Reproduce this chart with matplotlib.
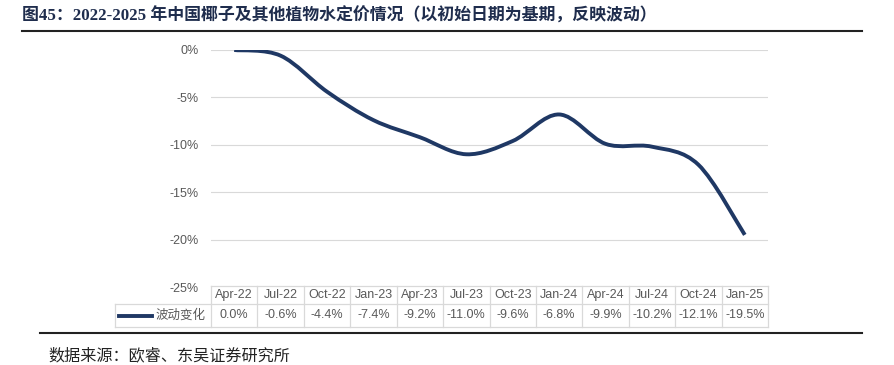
import matplotlib.pyplot as plt
from matplotlib.path import Path
from matplotlib.patches import PathPatch
from matplotlib.lines import Line2D
from matplotlib.ticker import FuncFormatter
import matplotlib.transforms as mtransforms

plt.rcParams['font.family'] = ['Liberation Sans', 'Noto Sans CJK SC', 'DejaVu Sans']

# data
months = ['Apr-22', 'Jul-22', 'Oct-22', 'Jan-23', 'Apr-23', 'Jul-23',
          'Oct-23', 'Jan-24', 'Apr-24', 'Jul-24', 'Oct-24', 'Jan-25']
change = [0.0, -0.6, -4.4, -7.4, -9.2, -11.0, -9.6, -6.8, -9.9, -10.2, -12.1, -19.5]
series_name = '波动变化'
title = '图45：2022-2025 年中国椰子及其他植物水定价情况（以初始日期为基期，反映波动）'
source = '数据来源：欧睿、东吴证券研究所'

navy = '#1F3864'
gray_txt = '#595959'
grid_c = '#D9D9D9'

W, H = 894, 365
fig = plt.figure(figsize=(W / 100, H / 100), dpi=100)

def fx(px):
    return px / W

def fy(py):
    return 1 - py / H

left_px, right_px, top_px, bot_px = 211, 768, 50, 287
ax = fig.add_axes([fx(left_px), fy(bot_px), fx(right_px - left_px), (bot_px - top_px) / H])
n = len(months)
ax.set_xlim(-0.5, n - 0.5)
ax.set_ylim(-25, 0)
ax.set_yticks([0, -5, -10, -15, -20, -25])
ax.yaxis.set_major_formatter(FuncFormatter(lambda v, p: f'{v:.0f}%'))
ax.set_xticks([])
ax.tick_params(axis='y', length=0, pad=9, labelsize=9, labelcolor=gray_txt)
for s in ax.spines.values():
    s.set_visible(False)
for v in [0, -5, -10, -15, -20]:
    ax.axhline(v, color=grid_c, lw=0.8, zorder=0)

# smoothed line (Excel-style bezier through the points)
xs = list(range(n))
verts = [(xs[0], change[0])]
codes = [Path.MOVETO]
for i in range(n - 1):
    p0 = (xs[i - 1], change[i - 1]) if i > 0 else (xs[i], change[i])
    p1 = (xs[i], change[i])
    p2 = (xs[i + 1], change[i + 1])
    p3 = (xs[i + 2], change[i + 2]) if i + 2 < n else p2
    c1 = (p1[0] + (p2[0] - p0[0]) / 6, p1[1] + (p2[1] - p0[1]) / 6)
    c2 = (p2[0] - (p3[0] - p1[0]) / 6, p2[1] - (p3[1] - p1[1]) / 6)
    verts += [c1, c2, p2]
    codes += [Path.CURVE4] * 3
ax.add_patch(PathPatch(Path(verts, codes), fill=False, edgecolor=navy, lw=2.8,
                       capstyle='butt', joinstyle='round', zorder=3))

# data table under the axes
blend = mtransforms.blended_transform_factory(ax.transData, ax.transAxes)
ph = bot_px - top_px

def ay(py):
    return (bot_px - py) / ph

hdr_top, hdr_bot, row_bot = 286, 304, 327
y_hdr = ay((hdr_top + hdr_bot) / 2)
y_row = ay((hdr_bot + row_bot) / 2)
for i, (m, v) in enumerate(zip(months, change)):
    ax.text(i, y_hdr, m, transform=blend, ha='center', va='center',
            fontsize=9, color=gray_txt, clip_on=False)
    ax.text(i, y_row, f'{v:.1f}%', transform=blend, ha='center', va='center',
            fontsize=9, color=gray_txt, clip_on=False)

line_kw = dict(color=grid_c, lw=0.9)
# horizontal borders
fig.add_artist(Line2D([fx(left_px), fx(right_px)], [fy(hdr_top)] * 2, **line_kw))
fig.add_artist(Line2D([fx(115), fx(right_px)], [fy(hdr_bot)] * 2, **line_kw))
fig.add_artist(Line2D([fx(115), fx(right_px)], [fy(row_bot)] * 2, **line_kw))
# vertical borders
fig.add_artist(Line2D([fx(115)] * 2, [fy(hdr_bot), fy(row_bot)], **line_kw))
for i in range(n + 1):
    xp = left_px + (right_px - left_px) * i / n
    fig.add_artist(Line2D([fx(xp)] * 2, [fy(hdr_top), fy(row_bot)], **line_kw))

# legend key in the table
ymid = fy((hdr_bot + row_bot) / 2)
fig.add_artist(Line2D([fx(119), fx(152)], [ymid, ymid], color=navy, lw=2.8))
fig.text(fx(155), ymid, series_name, ha='left', va='center', fontsize=9,
         color=gray_txt, family=['Noto Sans CJK SC', 'DejaVu Sans'])

# title, rules and source
fig.text(fx(22), fy(16), title, ha='left', va='center', fontsize=12.2, fontweight='bold',
         color='#1F2D4D', family=['Liberation Serif', 'Noto Sans CJK SC', 'DejaVu Sans'])
fig.add_artist(Line2D([fx(22), fx(862)], [fy(31)] * 2, color='#222222', lw=1.5))
fig.add_artist(Line2D([fx(40), fx(862)], [fy(333)] * 2, color='#222222', lw=1.5))
fig.text(fx(48), fy(356), source, ha='left', va='center', fontsize=11.6,
         color='#222222', family=['Noto Sans CJK SC', 'DejaVu Sans'])

fig.savefig('out.png', dpi=100)
